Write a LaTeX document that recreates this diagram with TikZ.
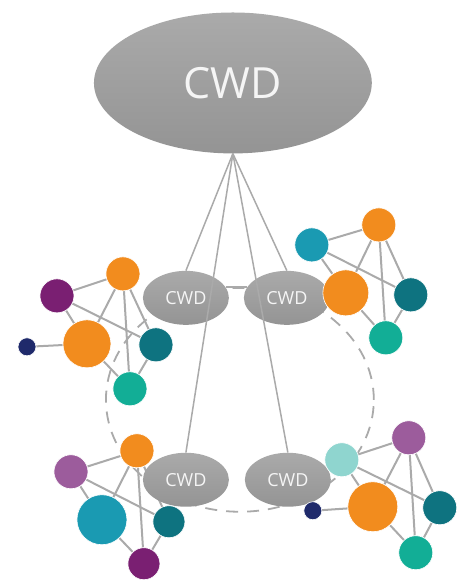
\documentclass[tikz,border=0pt]{standalone}
\usepackage{fontspec}
\setmainfont{Open Sans}
\usetikzlibrary{shapes.geometric}
\definecolor{cOrange}{RGB}{242,140,30}
\definecolor{cPurple}{RGB}{122,31,114}
\definecolor{cLpurple}{RGB}{156,92,156}
\definecolor{cNavy}{RGB}{31,42,107}
\definecolor{cDteal}{RGB}{14,115,128}
\definecolor{cGreen}{RGB}{18,174,150}
\definecolor{cTblue}{RGB}{26,154,178}
\definecolor{cCyan}{RGB}{143,213,207}
\definecolor{cLine}{RGB}{170,170,170}
\definecolor{cEllTop}{RGB}{170,170,170}
\definecolor{cEllBot}{RGB}{148,148,148}
\definecolor{cTxt}{RGB}{245,245,245}
\pgfdeclarelayer{back}
\pgfdeclarelayer{bg}
\pgfsetlayers{back,bg,main}
\tikzset{
  dot/.style={circle, inner sep=0pt, draw=white, line width=0.6pt},
  cwd/.style={ellipse, inner sep=0pt, top color=cEllTop, bottom color=cEllBot, draw=none, text=cTxt},
  edge/.style={draw=cLine, line width=2pt},
  apex/.style={draw=cLine, line width=1.5pt},
  ring/.style={draw=cLine, line width=1.8pt, dash pattern=on 12pt off 9pt}
}
\begin{document}
\begin{tikzpicture}[x=1pt,y=-1pt]
\begin{pgfonlayer}{back}
\path[use as bounding box, fill=white] (0,0) rectangle (446,580);
\end{pgfonlayer}
\begin{pgfonlayer}{bg}
\draw[ring] (240,400) ellipse [x radius=134pt, y radius=112pt];
\end{pgfonlayer}
% CWD ellipses
\node[cwd, minimum width=278pt, minimum height=141pt, font=\fontsize{43}{43}\selectfont] (top) at (233,83) {CWD};
\node[cwd, minimum width=86pt, minimum height=54pt, font=\fontsize{18}{18}\selectfont] (ul) at (186,298) {CWD};
\node[cwd, minimum width=86pt, minimum height=54pt, font=\fontsize{18}{18}\selectfont] (ur) at (287,298) {CWD};
\node[cwd, minimum width=86pt, minimum height=54pt, font=\fontsize{18}{18}\selectfont] (ll) at (186,480) {CWD};
\node[cwd, minimum width=86pt, minimum height=54pt, font=\fontsize{18}{18}\selectfont] (lr) at (288,480) {CWD};
% apex lines
\draw[apex] (top.south) -- (ul.north);
\draw[apex] (top.south) -- (ll.north);
\draw[apex] (top.south) -- (lr.north);
\draw[apex] (top.south) -- (ur.north);
\draw[apex] (ul.15) -- (ur.165);
% cluster upper-left
\node[dot, fill=cPurple, minimum size=34pt] (a1) at (57,296) {};
\node[dot, fill=cOrange, minimum size=34pt] (b1) at (123,274) {};
\node[dot, fill=cOrange, minimum size=48pt] (c1) at (87,344) {};
\node[dot, fill=cNavy, minimum size=18pt] (d1) at (27,347) {};
\node[dot, fill=cDteal, minimum size=34pt] (e1) at (156,345) {};
\node[dot, fill=cGreen, minimum size=34pt] (f1) at (130,389) {};
% cluster upper-right
\node[dot, fill=cTblue, minimum size=34pt] (a2) at (312,245) {};
\node[dot, fill=cOrange, minimum size=34pt] (b2) at (379,225) {};
\node[dot, fill=cOrange, minimum size=46pt] (c2) at (346,293) {};
\node[dot, fill=cDteal, minimum size=34pt] (e2) at (411,295) {};
\node[dot, fill=cGreen, minimum size=34pt] (f2) at (386,338) {};
% cluster lower-left
\node[dot, fill=cLpurple, minimum size=34pt] (a3) at (71,472) {};
\node[dot, fill=cOrange, minimum size=34pt] (b3) at (137,451) {};
\node[dot, fill=cTblue, minimum size=50pt] (c3) at (102,520) {};
\node[dot, fill=cDteal, minimum size=32pt] (e3) at (169,522) {};
\node[dot, fill=cPurple, minimum size=32pt] (f3) at (144,564) {};
% cluster lower-right
\node[dot, fill=cCyan, minimum size=34pt] (a4) at (342,460) {};
\node[dot, fill=cLpurple, minimum size=34pt] (b4) at (409,438) {};
\node[dot, fill=cOrange, minimum size=50pt] (c4) at (373,507) {};
\node[dot, fill=cNavy, minimum size=18pt] (d4) at (313,511) {};
\node[dot, fill=cDteal, minimum size=34pt] (e4) at (440,508) {};
\node[dot, fill=cGreen, minimum size=34pt] (f4) at (416,553) {};
\begin{pgfonlayer}{bg}
\foreach \i in {1,2,3,4}{
  \draw[edge] (a\i) -- (b\i);
  \draw[edge] (a\i) -- (c\i);
  \draw[edge] (a\i) -- (e\i);
  \draw[edge] (b\i) -- (c\i);
  \draw[edge] (b\i) -- (f\i);
  \draw[edge] (b\i) -- (e\i);
  \draw[edge] (c\i) -- (f\i);
  \draw[edge] (e\i) -- (f\i);
}
\draw[edge] (c1) -- (d1);
\draw[edge] (c4) -- (d4);
\end{pgfonlayer}
\end{tikzpicture}
\end{document}
